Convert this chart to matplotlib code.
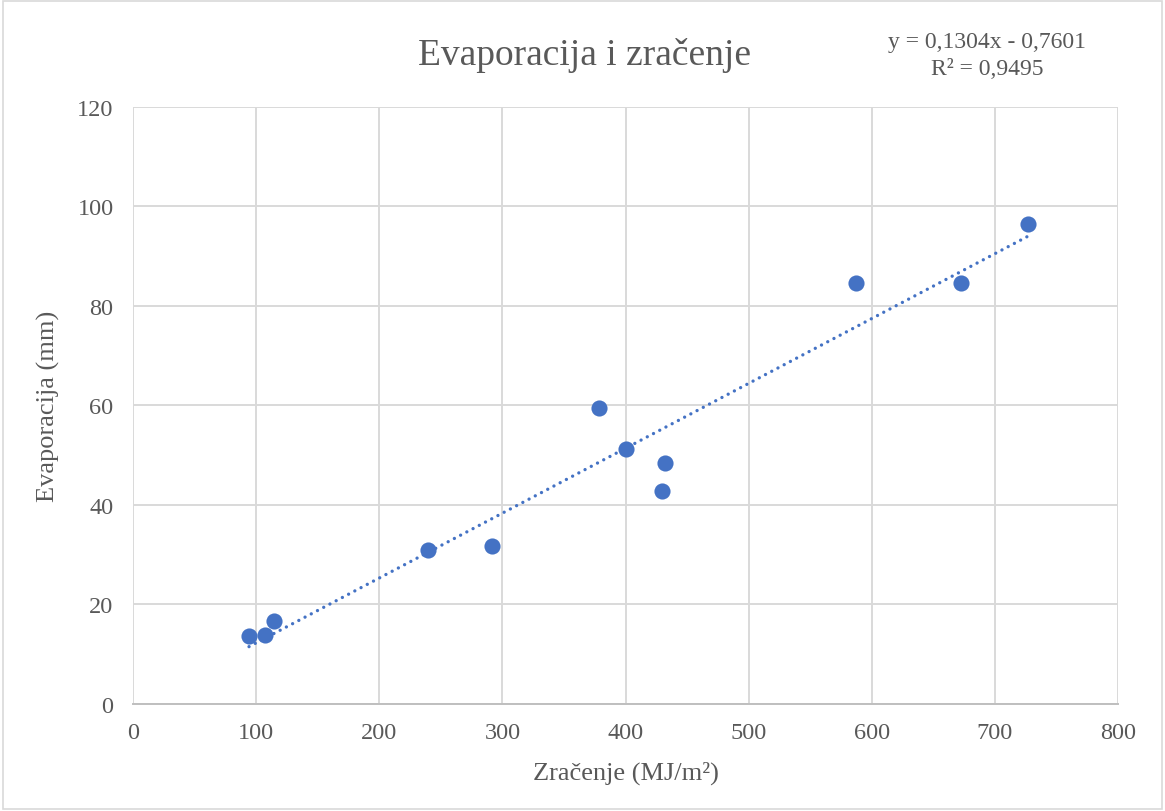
import matplotlib.pyplot as plt
from matplotlib.patches import Rectangle

# ocitane vrijednosti
zracenje = [94.2, 107.2, 114.5, 239.6, 291.6, 378.6, 400.5, 429.7, 432.2, 587.3, 672.6, 727.1]
evaporacija = [13.7, 13.9, 16.7, 31.0, 31.8, 59.5, 51.3, 42.8, 48.4, 84.6, 84.6, 96.5]
nagib = 0.1304
odsjecak = -0.7601
x_ticks = [0, 100, 200, 300, 400, 500, 600, 700, 800]
y_ticks = [0, 20, 40, 60, 80, 100, 120]

plt.rcParams['font.family'] = ['Liberation Serif', 'DejaVu Serif']
siva = '#595959'
plava = '#4472C4'

fig = plt.figure(figsize=(11.65, 8.12), dpi=100)
ax = fig.add_axes([0.1142, 0.1318, 0.8455, 0.7352])

ax.scatter(zracenje, evaporacija, s=135, color=plava, zorder=3, linewidths=0)

# linija trenda
x_tr = [min(zracenje), max(zracenje)]
y_tr = [nagib * x + odsjecak for x in x_tr]
ax.plot(x_tr, y_tr, color=plava, linewidth=2.4, linestyle=(0, (0.01, 2.1)),
        dash_capstyle='round', zorder=2)

ax.set_xlim(0, 800)
ax.set_ylim(0, 120)
ax.set_xticks(x_ticks)
ax.set_yticks(y_ticks)
ax.grid(True, color='#D9D9D9', linewidth=1.4)
ax.set_axisbelow(True)
for s in ['top', 'right', 'left']:
    ax.spines[s].set_visible(False)
ax.spines['bottom'].set_color('#BFBFBF')
ax.spines['bottom'].set_linewidth(1.4)
ax.tick_params(length=0, labelsize=17.5, labelcolor=siva)
ax.tick_params(axis='x', pad=13)
ax.tick_params(axis='y', pad=14)

ax.set_xlabel('Zračenje (MJ/m²)', fontsize=19, color=siva)
ax.set_ylabel('Evaporacija (mm)', fontsize=19, color=siva)
ax.xaxis.set_label_coords(0.5, -0.094)
ax.yaxis.set_label_coords(-0.074, 0.5)

fig.text(0.502, 0.932, 'Evaporacija i zračenje', fontsize=27, color=siva,
         ha='center', va='center')
fig.text(0.847, 0.931, 'y = 0,1304x - 0,7601\nR² = 0,9495', fontsize=17,
         color=siva, ha='center', va='center', linespacing=1.38)

fig.patches.append(Rectangle((0.003, 0.003), 0.994, 0.994, transform=fig.transFigure,
                             fill=False, edgecolor='#D9D9D9', linewidth=1.2))

fig.savefig('out.png', dpi=100)
